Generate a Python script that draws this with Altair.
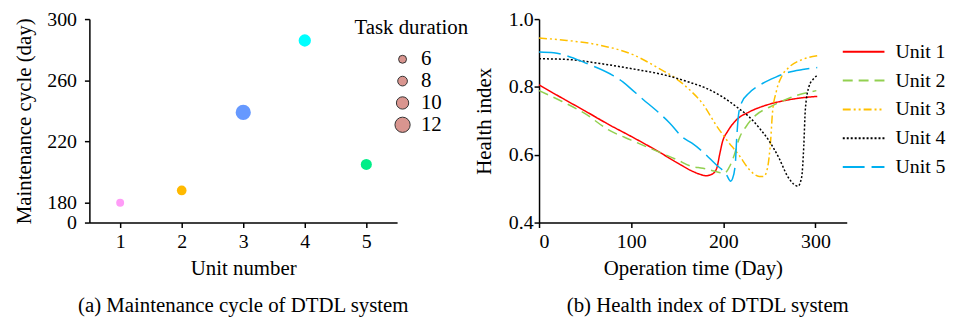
import altair as alt
import pandas as pd

# ---------------- Panel (a) data ----------------
units = [1, 2, 3, 4, 5]
cycles = [180, 188, 239, 286, 205]
durations = [6, 8, 12, 10, 9]
point_colors = ["#ff9cf7", "#ffb900", "#6699ff", "#00ffff", "#00ee88"]
size_values = [6, 8, 10, 12]
size_range = [64, 95, 154, 235]
y_ticks_a = [0, 180, 220, 260, 300]
x_ticks_a = [1, 2, 3, 4, 5]

# ---------------- Panel (b) data ----------------
series_names = ["Unit 1", "Unit 2", "Unit 3", "Unit 4", "Unit 5"]
line_colors = ["#ff0000", "#92d050", "#ffc000", "#000000", "#00b0f0"]
line_dashes = [[1, 0], [10, 6], [8, 3, 2, 3, 2, 3], [2, 2], [22, 7]]

unit1_day = [0, 25, 50, 75, 100, 131, 150, 166, 174, 181, 188, 193, 196, 199, 205, 214, 228, 242, 257, 271, 286, 302]
unit1_hi = [0.806, 0.767, 0.729, 0.690, 0.654, 0.607, 0.576, 0.552, 0.543, 0.538, 0.543, 0.561, 0.600, 0.637, 0.670, 0.702, 0.726, 0.742, 0.754, 0.762, 0.768, 0.772]

unit2_day = [0, 25, 50, 75, 100, 131, 150, 165, 178, 190, 201, 206, 212, 217, 225, 235, 250, 268, 282, 296, 301]
unit2_hi = [0.789, 0.757, 0.721, 0.674, 0.643, 0.607, 0.585, 0.566, 0.560, 0.552, 0.545, 0.561, 0.600, 0.646, 0.684, 0.716, 0.740, 0.763, 0.777, 0.786, 0.789]

unit3_day = [0, 30, 66, 102, 131, 149, 164, 178, 192, 203, 217, 228, 239, 244, 248, 251.5, 253.3, 257.6, 264, 271, 286, 302]
unit3_hi = [0.944, 0.937, 0.923, 0.895, 0.853, 0.824, 0.790, 0.749, 0.688, 0.646, 0.599, 0.557, 0.536, 0.536, 0.561, 0.646, 0.721, 0.787, 0.834, 0.857, 0.881, 0.892]

unit4_day = [0, 30, 66, 102, 138, 164, 181.5, 199.4, 217.4, 228, 239, 249.7, 260.5, 269.5, 276.6, 281, 285, 287.4, 289, 293, 298, 302]
unit4_hi = [0.883, 0.881, 0.869, 0.853, 0.834, 0.813, 0.796, 0.770, 0.735, 0.712, 0.679, 0.641, 0.590, 0.538, 0.513, 0.507, 0.533, 0.627, 0.731, 0.801, 0.824, 0.834]

unit5_day = [0, 16, 30, 50, 80, 91, 102, 113, 127, 142, 156, 166, 178, 192, 203, 208, 210, 213, 214.5, 216.7, 220, 228, 242.5, 257, 271, 286, 302]
unit5_hi = [0.903, 0.901, 0.892, 0.871, 0.834, 0.815, 0.789, 0.763, 0.731, 0.693, 0.651, 0.634, 0.608, 0.571, 0.543, 0.522, 0.529, 0.571, 0.646, 0.721, 0.754, 0.782, 0.810, 0.829, 0.843, 0.851, 0.857]

y_ticks_b = [0.4, 0.6, 0.8, 1.0]
x_ticks_b = [0, 100, 200, 300]

FONT = "Liberation Serif, Times New Roman, serif"
H = 205

# ---------------- Build tables ----------------
df_a = pd.DataFrame({"unit": units, "cycle": cycles, "duration": durations,
                     "uname": [str(u) for u in units]})

rows = []
for name, days, his in zip(series_names,
                           [unit1_day, unit2_day, unit3_day, unit4_day, unit5_day],
                           [unit1_hi, unit2_hi, unit3_hi, unit4_hi, unit5_hi]):
    for d, h in zip(days, his):
        rows.append({"series": name, "day": d, "hi": h})
df_b = pd.DataFrame(rows)

# ---------------- Panel (a) ----------------
left = alt.Chart(df_a).mark_circle(opacity=1).encode(
    x=alt.X("unit:Q",
            scale=alt.Scale(domain=[0.5, 5.5], nice=False, zero=False),
            axis=alt.Axis(values=x_ticks_a, format="d", title="Unit number",
                          labelPadding=4, titlePadding=6)),
    y=alt.Y("cycle:Q",
            scale=alt.Scale(domain=[0, 180, 300], range=[H, H - 20, 0], nice=False, zero=False),
            axis=alt.Axis(values=y_ticks_a, title="Maintenance cycle (day)",
                          labelPadding=8, titlePadding=12, labelOverlap=False)),
    color=alt.Color("uname:N", scale=alt.Scale(domain=[str(u) for u in units], range=point_colors),
                    legend=None),
    size=alt.Size("duration:Q",
                  scale=alt.Scale(domain=size_values, range=size_range),
                  legend=alt.Legend(title="Task duration", orient="none", legendX=267, legendY=-2,
                                    values=size_values, symbolType="circle",
                                    symbolFillColor="#d9958f", symbolStrokeColor="#333333",
                                    symbolStrokeWidth=1, symbolOpacity=1,
                                    symbolOffset=38, labelOffset=8, titlePadding=11,
                                    rowPadding=0, labelFontSize=21)),
).properties(
    width=310, height=H,
    title=alt.TitleParams("(a) Maintenance cycle of DTDL system", orient="bottom",
                          anchor="middle", frame="group", offset=17)
)

# ---------------- Panel (b) ----------------
legend_b = alt.Legend(title=None, orient="none", legendX=305, legendY=21,
                      symbolType="stroke", symbolSize=1764, symbolStrokeWidth=2,
                      labelOffset=10, clipHeight=24, rowPadding=5)
right = alt.Chart(df_b).mark_line(interpolate="monotone", strokeWidth=1.5).encode(
    x=alt.X("day:Q", scale=alt.Scale(domain=[0, 334], nice=False, zero=False),
            axis=alt.Axis(values=x_ticks_b, format="d", title="Operation time (Day)",
                          labelPadding=4, titlePadding=6)),
    y=alt.Y("hi:Q", scale=alt.Scale(domain=[0.4, 1.0], nice=False, zero=False),
            axis=alt.Axis(values=y_ticks_b, format=".1f", title="Health index",
                          labelPadding=1, titlePadding=14, labelOverlap=False)),
    color=alt.Color("series:N", scale=alt.Scale(domain=series_names, range=line_colors),
                    legend=legend_b),
    strokeDash=alt.StrokeDash("series:N", scale=alt.Scale(domain=series_names, range=line_dashes),
                              legend=legend_b),
).properties(
    width=310, height=H,
    title=alt.TitleParams("(b) Health index of DTDL system", orient="bottom",
                          anchor="middle", frame="group", offset=17, dx=15)
)

chart = alt.HConcatChart(hconcat=[left, right], spacing=143, bounds="flush").resolve_scale(
    color="independent", size="independent", strokeDash="independent"
).resolve_legend(
    color="independent", size="independent", strokeDash="independent"
).properties(
    padding={"left": 6, "top": 0, "right": 0, "bottom": 0}
).configure_view(stroke=None).configure_axis(
    labelFont=FONT, titleFont=FONT, labelFontSize=20, titleFontSize=21,
    titleFontWeight="normal", labelColor="black", titleColor="black",
    domainColor="black", tickColor="black", domainWidth=1.5, tickWidth=1.5,
    tickSize=5, grid=False
).configure_legend(
    labelFont=FONT, titleFont=FONT, labelFontSize=20, titleFontSize=21,
    titleFontWeight="normal", labelColor="black", titleColor="black"
).configure_title(
    font=FONT, fontSize=21, fontWeight="normal", color="black"
)

chart.save("out.html", embed_options={"renderer": "svg", "actions": False})
